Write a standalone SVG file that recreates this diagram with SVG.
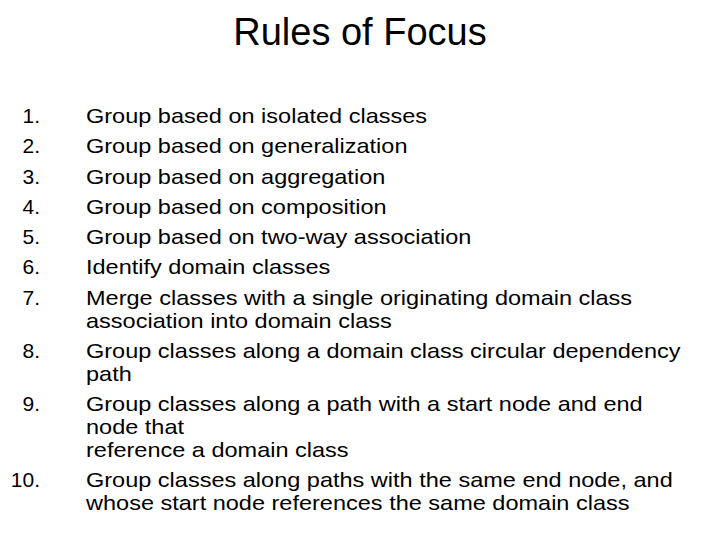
<svg xmlns="http://www.w3.org/2000/svg" width="720" height="540" viewBox="0 0 720 540">
<style>
text{font-family:"Liberation Sans",Arial,sans-serif;fill:#000}
.t{font-size:38px;text-anchor:middle}
.n{font-size:21px;text-anchor:end}
.l{font-size:21px}
</style>
<rect width="720" height="540" fill="#fff"/>
<text class="t" x="360" y="45">Rules of Focus</text>
<g>
<text class="n" x="40" y="123">1.</text>
<text class="n" x="40" y="153">2.</text>
<text class="n" x="40" y="184">3.</text>
<text class="n" x="40" y="214">4.</text>
<text class="n" x="40" y="244">5.</text>
<text class="n" x="40" y="274">6.</text>
<text class="n" x="40" y="305">7.</text>
<text class="n" x="40" y="358">8.</text>
<text class="n" x="40" y="411">9.</text>
<text class="n" x="40" y="487">10.</text>
</g>
<g transform="scale(1.12,1)">
<text class="l" x="76.8" y="123">Group based on isolated classes</text>
<text class="l" x="76.8" y="153">Group based on generalization</text>
<text class="l" x="76.8" y="184">Group based on aggregation</text>
<text class="l" x="76.8" y="214">Group based on composition</text>
<text class="l" x="76.8" y="244">Group based on two-way association</text>
<text class="l" x="76.8" y="274">Identify domain classes</text>
<text class="l" x="76.8" y="305">Merge classes with a single originating domain class</text>
<text class="l" x="76.8" y="328">association into domain class</text>
<text class="l" x="76.8" y="358">Group classes along a domain class circular dependency</text>
<text class="l" x="76.8" y="381">path</text>
<text class="l" x="76.8" y="411">Group classes along a path with a start node and end</text>
<text class="l" x="76.8" y="434">node that</text>
<text class="l" x="76.8" y="457">reference a domain class</text>
<text class="l" x="76.8" y="487">Group classes along paths with the same end node, and</text>
<text class="l" x="76.8" y="510">whose start node references the same domain class</text>
</g>
</svg>
